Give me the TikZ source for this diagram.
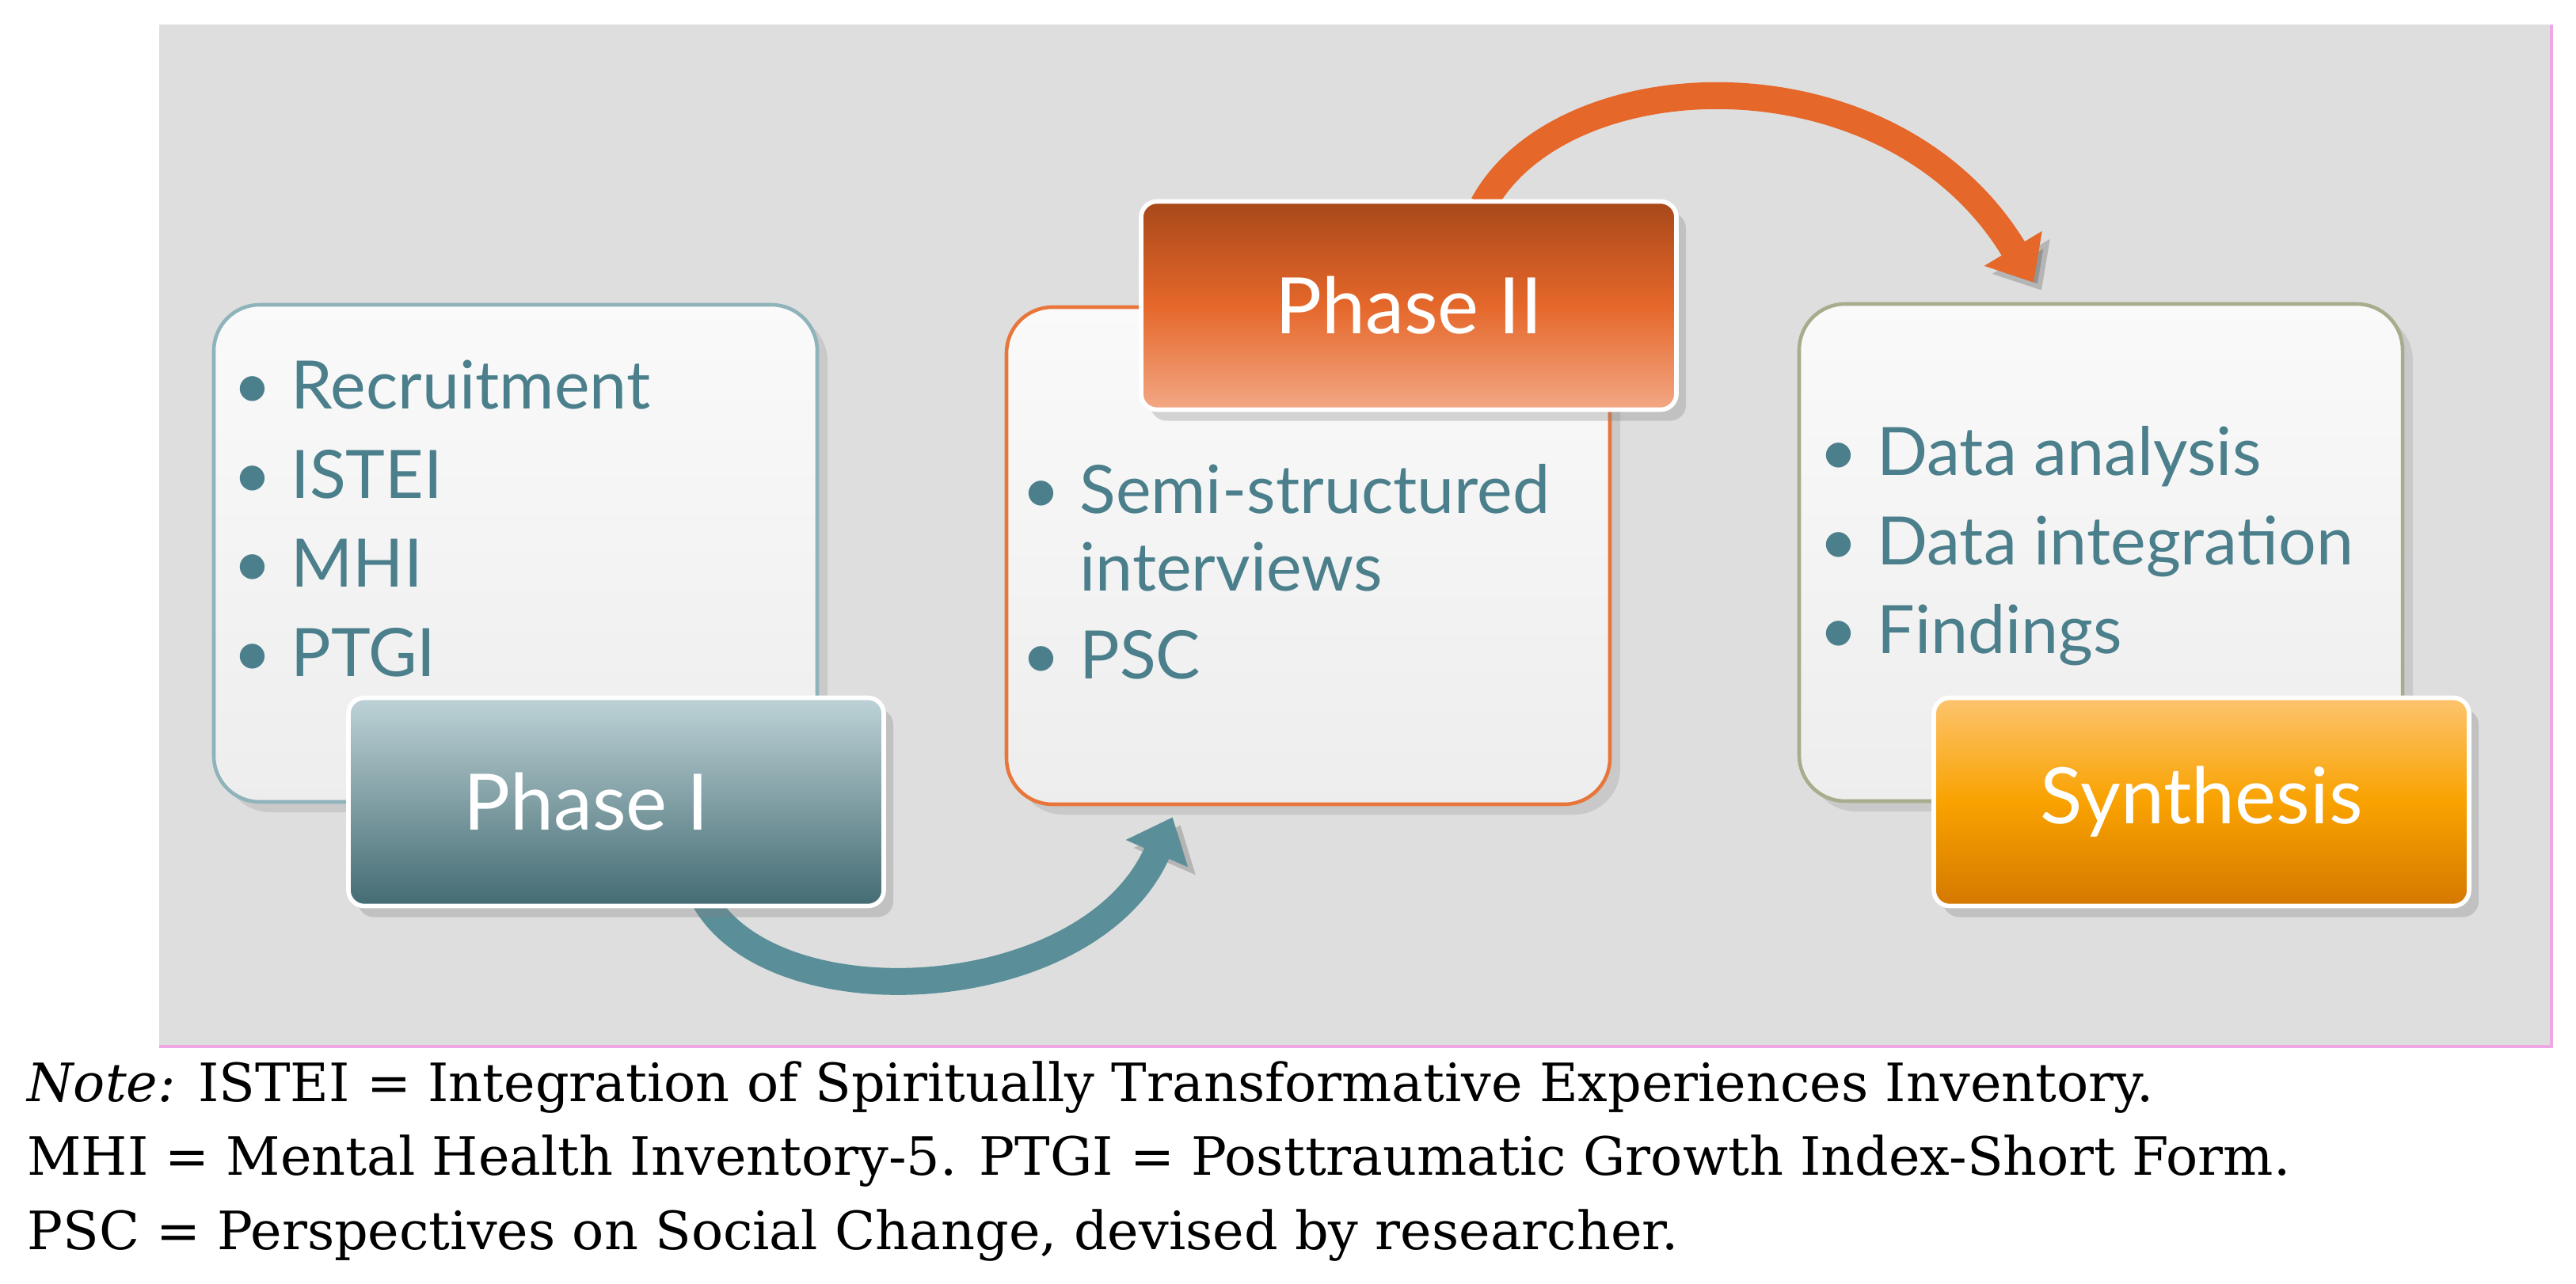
\documentclass[tikz,border=0pt]{standalone}
\usepackage{fontspec}
\setmainfont{DejaVu Serif}
\newfontfamily\gillfont{Lato}
\usetikzlibrary{arrows.meta,shadows,positioning}
\pgfdeclarelayer{nen}
\pgfdeclarelayer{mui}
\pgfsetlayers{nen,mui,main}
\definecolor{nenxam}{HTML}{DEDEDE}
\definecolor{chuxanh}{HTML}{4B7F8B}
\definecolor{vienxanh}{HTML}{8FB3BB}
\definecolor{viencam}{HTML}{E8763A}
\definecolor{vienreu}{HTML}{A7AD8C}
\definecolor{tenxanh}{HTML}{5A8F99}
\definecolor{tencam}{HTML}{E5672A}
\definecolor{camdam}{HTML}{A8481A}
\definecolor{camnhat}{HTML}{F3A885}
\definecolor{vangnhat}{HTML}{FDC46E}
\definecolor{vang}{HTML}{F9A200}
\definecolor{vangdam}{HTML}{D47800}
\definecolor{hong}{HTML}{F0A8E4}
\newcommand\bul{\makebox[0.73cm][l]{\textbullet}}
\begin{document}
\begin{tikzpicture}[
	khung/.style={rounded corners=0.58cm, line width=1.3pt, top color=white!98!black, bottom color=white!93!black,
		minimum width=7.62cm, minimum height=6.28cm,
		drop shadow={shadow xshift=0.13cm, shadow yshift=-0.13cm, opacity=0.22}},
	nhan/.style={rounded corners=0.2cm, draw=white, line width=1.6pt, minimum width=6.76cm, minimum height=2.63cm,
		text=white, font=\gillfont\fontsize{28}{32}\selectfont,
		drop shadow={shadow xshift=0.12cm, shadow yshift=-0.14cm, opacity=0.3}},
	danhsach/.style={align=left, anchor=west, text=chuxanh, font=\gillfont\fontsize{24}{32}\selectfont},
	muiten/.style={line width=0.34cm, -{Triangle[length=0.5cm,width=0.82cm]},
		preaction={draw=black, opacity=0.18, transform canvas={shift={(0.1,-0.1)}}}},
	ghichu/.style={align=left, anchor=west, font=\fontsize{19}{26.5}\selectfont}
]
	\useasboundingbox (0,0) rectangle (32.53,16.21);
	\begin{pgfonlayer}{nen}
	% 1. Vẽ nền xám phía sau sơ đồ
	\fill[nenxam] (2.01,2.99) rectangle (32.22,15.90);
	\draw[hong, line width=1pt] (2.01,2.99) -- (32.22,2.99) -- (32.22,15.90);

	% 2. Ba khung danh sách
	\node[khung, draw=vienxanh] (box1) at (6.51,9.22) {};
	\node[khung, draw=viencam] (box2) at (16.52,9.19) {};
	\node[khung, draw=vienreu] (box3) at (26.53,9.23) {};
	\end{pgfonlayer}

	% Nội dung từng khung
	\node[danhsach] (list1) at (2.82,9.66) {\bul Recruitment\\ \bul ISTEI\\ \bul MHI\\ \bul PTGI};
	\node[danhsach, font=\gillfont\fontsize{24}{28}\selectfont] (list2) at (12.78,8.99)
		{\bul Semi-structured\\ \hspace*{0.73cm}interviews\\[3.5pt] \bul PSC};
	\node[danhsach] (list3) at (22.85,9.31) {\bul Data analysis\\ \bul Data integration\\ \bul Findings};

	% 3. Nhãn các giai đoạn
	\node[nhan, top color=tenxanh!40!white, bottom color=tenxanh!75!black] (p1) at (7.78,6.08) {Phase I\kern0.75cm};
	\node[nhan, top color=camdam, bottom color=camnhat, middle color=tencam] (p2) at (17.79,12.35) {Phase II};
	\node[nhan, top color=vangnhat, bottom color=vangdam, middle color=vang] (p3) at (27.80,6.08) {Synthesis};

	% 4. Mũi tên cong nối các giai đoạn (nằm dưới các nhãn)
	\begin{pgfonlayer}{mui}
	\draw[muiten, tenxanh] ([xshift=1.12cm,yshift=0.1cm]p1.south) .. controls +(0.9,-1.56) and +(-1.04,-2.38) .. ([xshift=2.12cm,yshift=-0.14cm]box2.south west);
	\draw[muiten, tencam] ([xshift=0.94cm,yshift=-0.07cm]p2.north) .. controls +(1.0,1.85) and +(-1.8,2.99) .. ([xshift=-0.85cm,yshift=0.25cm]box3.north);
	\end{pgfonlayer}

	% 5. Ghi chú phía dưới
	\node[ghichu] (note) at (0.22,1.54) {\textit{Note:} ISTEI = Integration of Spiritually Transformative Experiences Inventory.\\
		MHI = Mental Health Inventory-5. PTGI = Posttraumatic Growth Index-Short Form.\\
		PSC = Perspectives on Social Change, devised by researcher.};
\end{tikzpicture}
\end{document}
